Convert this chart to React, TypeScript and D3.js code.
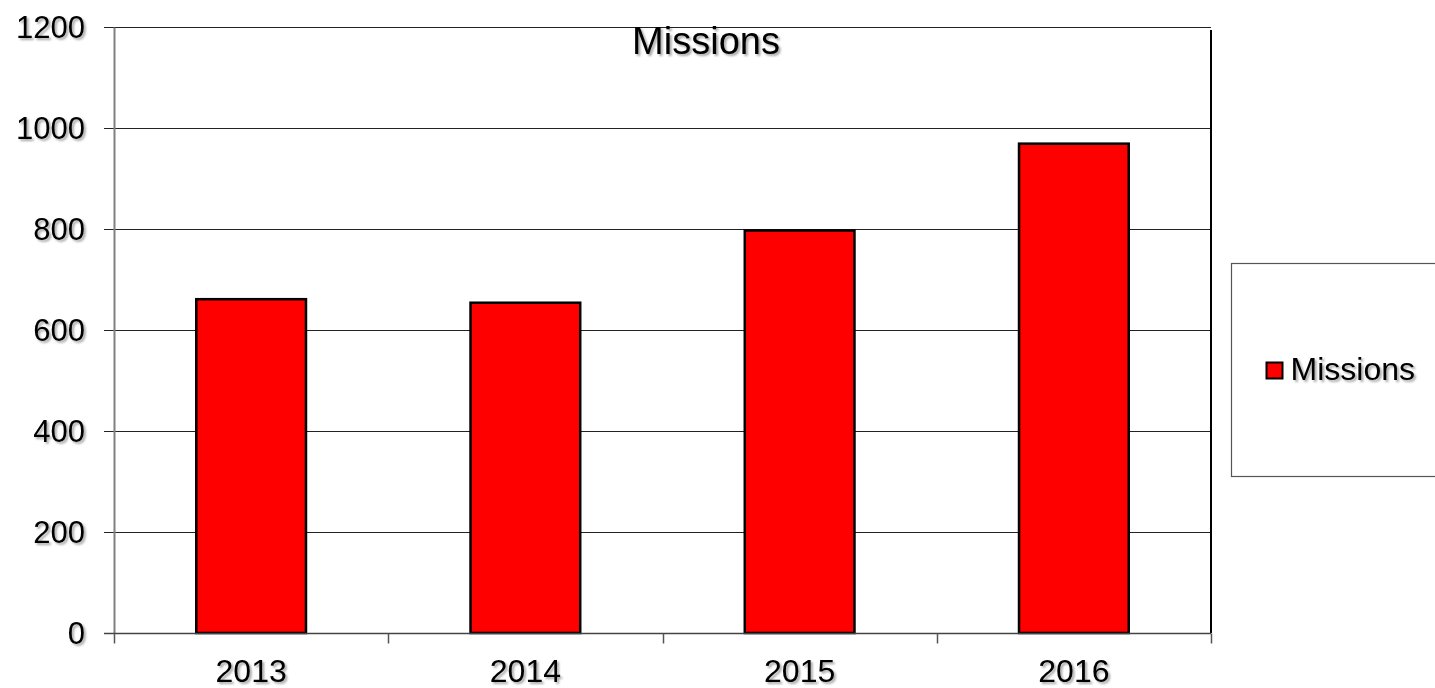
import * as d3 from 'd3';
import { useEffect, useRef } from 'react';

const years = ['2013', '2014', '2015', '2016'];
const missions = [661, 654, 797, 969];
const yTicks = [0, 200, 400, 600, 800, 1000, 1200];
const seriesName = 'Missions';

export default function App() {
  const ref = useRef<SVGSVGElement | null>(null);

  useEffect(() => {
    if (!ref.current) return;
    const svg = d3.select(ref.current);
    svg.selectAll('*').remove();

    const width = 1435;
    const height = 688;
    const margin = { top: 27, right: 224, bottom: 55, left: 114 };
    const font = '"Liberation Sans", Arial, sans-serif';

    // soft text shadow like the original
    const defs = svg.append('defs');
    const f = defs.append('filter').attr('id', 'shadow').attr('x', '-10%').attr('y', '-10%').attr('width', '130%').attr('height', '140%');
    f.append('feDropShadow').attr('dx', 2).attr('dy', 2).attr('stdDeviation', 1.2).attr('flood-color', '#000').attr('flood-opacity', 0.35);

    const x = d3
      .scaleBand<string>()
      .domain(years)
      .range([margin.left, width - margin.right])
      .padding(0);
    const y = d3
      .scaleLinear()
      .domain([0, 1200])
      .range([height - margin.bottom, margin.top]);
    const py = (v: number) => Math.round(y(v)) + 0.5;

    // gridlines
    svg
      .append('g')
      .selectAll('line')
      .data(yTicks.filter((t) => t > 0))
      .enter()
      .append('line')
      .attr('x1', margin.left - 10)
      .attr('x2', width - margin.right)
      .attr('y1', (d) => py(d))
      .attr('y2', (d) => py(d))
      .attr('stroke', '#222')
      .attr('stroke-width', 1);

    // y axis
    svg
      .append('line')
      .attr('x1', margin.left + 0.5)
      .attr('x2', margin.left + 0.5)
      .attr('y1', py(1200))
      .attr('y2', py(0))
      .attr('stroke', '#808080')
      .attr('stroke-width', 2);
    svg
      .append('g')
      .selectAll('text')
      .data(yTicks)
      .enter()
      .append('text')
      .attr('x', 85)
      .attr('y', (d) => y(d) + 11)
      .attr('text-anchor', 'end')
      .attr('font-family', font)
      .attr('font-size', 31)
      .attr('filter', 'url(#shadow)')
      .text((d) => d);

    // right border
    svg
      .append('line')
      .attr('x1', width - margin.right)
      .attr('x2', width - margin.right)
      .attr('y1', y(1200) + 3)
      .attr('y2', y(0))
      .attr('stroke', '#000')
      .attr('stroke-width', 2);

    // bars
    const bw = x.bandwidth() * 0.4;
    svg
      .append('g')
      .selectAll('rect')
      .data(years.map((yr, i) => ({ yr, v: missions[i] })))
      .enter()
      .append('rect')
      .attr('x', (d) => (x(d.yr) || 0) + (x.bandwidth() - bw) / 2)
      .attr('y', (d) => y(d.v))
      .attr('width', bw)
      .attr('height', (d) => y(0) - y(d.v))
      .attr('fill', '#ff0000')
      .attr('stroke', '#000')
      .attr('stroke-width', 2.5);

    // x axis
    svg
      .append('line')
      .attr('x1', margin.left - 10)
      .attr('x2', width - margin.right)
      .attr('y1', py(0))
      .attr('y2', py(0))
      .attr('stroke', '#444')
      .attr('stroke-width', 1.5);
    const edges = years.map((yr) => x(yr) || 0).concat([width - margin.right]);
    svg
      .append('g')
      .selectAll('line')
      .data(edges)
      .enter()
      .append('line')
      .attr('x1', (d) => Math.round(d) + 0.5)
      .attr('x2', (d) => Math.round(d) + 0.5)
      .attr('y1', py(0))
      .attr('y2', py(0) + 10)
      .attr('stroke', '#555')
      .attr('stroke-width', 1.5);
    svg
      .append('g')
      .selectAll('text')
      .data(years)
      .enter()
      .append('text')
      .attr('x', (d) => (x(d) || 0) + x.bandwidth() / 2)
      .attr('y', 682)
      .attr('text-anchor', 'middle')
      .attr('font-family', font)
      .attr('font-size', 32)
      .attr('filter', 'url(#shadow)')
      .text((d) => d);

    // title
    svg
      .append('text')
      .attr('x', 706)
      .attr('y', 54)
      .attr('text-anchor', 'middle')
      .attr('font-family', font)
      .attr('font-size', 38)
      .attr('filter', 'url(#shadow)')
      .text(seriesName);

    // legend
    const legend = svg.append('g').attr('transform', 'translate(1231.5, 263.5)');
    legend
      .append('rect')
      .attr('width', 215)
      .attr('height', 213)
      .attr('fill', '#fff')
      .attr('stroke', '#555')
      .attr('stroke-width', 1.2);
    legend
      .append('rect')
      .attr('x', 35)
      .attr('y', 99)
      .attr('width', 16)
      .attr('height', 16)
      .attr('fill', '#ff0000')
      .attr('stroke', '#000')
      .attr('stroke-width', 2);
    legend
      .append('text')
      .attr('x', 59)
      .attr('y', 116)
      .attr('font-family', font)
      .attr('font-size', 32)
      .attr('filter', 'url(#shadow)')
      .text(seriesName);
  }, []);

  return (
    <svg
      ref={ref}
      width={1435}
      height={688}
      style={{ position: 'absolute', left: 0, top: 0, background: '#fff' }}
      role="img"
      aria-label="Missions chart"
    />
  );
}
